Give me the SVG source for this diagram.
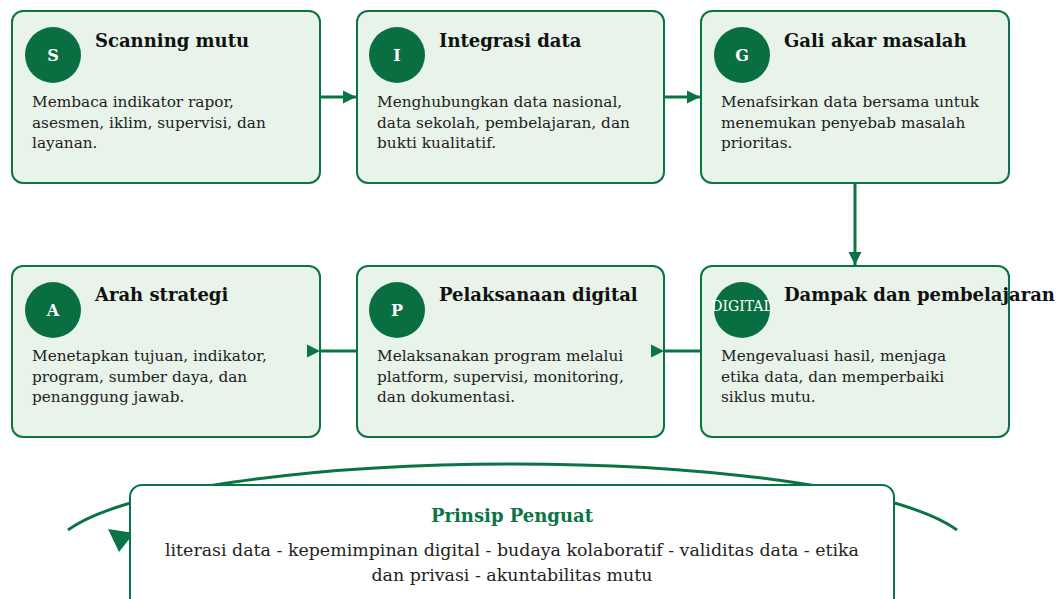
<svg xmlns="http://www.w3.org/2000/svg" width="1062" height="599" viewBox="0 0 1062 599">
  <defs>
    <style>
      .card { fill: #e8f3e9; stroke: #0b7444; stroke-width: 2; }
      .badge { fill: #0a6f40; }
      .badge-txt { fill: #ffffff; font-family: "DejaVu Serif", serif; font-weight: bold; font-size: 16px; text-anchor: middle; }
      .badge-word { fill: #ffffff; font-family: "DejaVu Serif", serif; font-size: 14px; text-anchor: middle; }
      .title { fill: #111111; font-family: "DejaVu Serif", serif; font-weight: bold; font-size: 18px; }
      .body { fill: #222222; font-family: "DejaVu Serif", serif; font-size: 15.3px; }
      .link { fill: none; stroke: #0b7444; stroke-width: 3; }
      .panel { fill: #ffffff; stroke: #0b7444; stroke-width: 2; }
      .panel-title { fill: #0b7444; font-family: "DejaVu Serif", serif; font-weight: bold; font-size: 18px; text-anchor: middle; }
      .panel-txt { fill: #222222; font-family: "DejaVu Serif", serif; font-size: 17.4px; text-anchor: middle; }
    </style>
    <marker id="head" viewBox="0 0 10 10" refX="10" refY="5" markerWidth="4.5" markerHeight="5.5" orient="auto" markerUnits="strokeWidth">
      <path d="M0,0 L10,5 L0,10 Z" fill="#0b7444"/>
    </marker>
  </defs>

  <g id="node-s">
    <rect class="card" x="12" y="11" width="308" height="172" rx="11"/>
    <circle class="badge" cx="53" cy="55" r="28"/>
    <text class="badge-txt" x="53" y="61">S</text>
    <text class="title" x="95" y="47">Scanning mutu</text>
    <text class="body" x="32" y="107">Membaca indikator rapor,</text>
    <text class="body" x="32" y="128">asesmen, iklim, supervisi, dan</text>
    <text class="body" x="32" y="148">layanan.</text>
  </g>

  <g id="node-i">
    <rect class="card" x="357" y="11" width="307" height="172" rx="11"/>
    <circle class="badge" cx="397" cy="55" r="28"/>
    <text class="badge-txt" x="397" y="61">I</text>
    <text class="title" x="439" y="47">Integrasi data</text>
    <text class="body" x="377" y="107">Menghubungkan data nasional,</text>
    <text class="body" x="377" y="128">data sekolah, pembelajaran, dan</text>
    <text class="body" x="377" y="148">bukti kualitatif.</text>
  </g>

  <g id="node-g">
    <rect class="card" x="701" y="11" width="308" height="172" rx="11"/>
    <circle class="badge" cx="742" cy="55" r="28"/>
    <text class="badge-txt" x="742" y="61">G</text>
    <text class="title" x="784" y="47">Gali akar masalah</text>
    <text class="body" x="721" y="107">Menafsirkan data bersama untuk</text>
    <text class="body" x="721" y="128">menemukan penyebab masalah</text>
    <text class="body" x="721" y="148">prioritas.</text>
  </g>

  <g id="node-a">
    <rect class="card" x="12" y="266" width="308" height="171" rx="11"/>
    <circle class="badge" cx="53" cy="310" r="28"/>
    <text class="badge-txt" x="53" y="316">A</text>
    <text class="title" x="95" y="301">Arah strategi</text>
    <text class="body" x="32" y="361">Menetapkan tujuan, indikator,</text>
    <text class="body" x="32" y="382">program, sumber daya, dan</text>
    <text class="body" x="32" y="402">penanggung jawab.</text>
  </g>

  <g id="node-p">
    <rect class="card" x="357" y="266" width="307" height="171" rx="11"/>
    <circle class="badge" cx="397" cy="310" r="28"/>
    <text class="badge-txt" x="397" y="316">P</text>
    <text class="title" x="439" y="301">Pelaksanaan digital</text>
    <text class="body" x="377" y="361">Melaksanakan program melalui</text>
    <text class="body" x="377" y="382">platform, supervisi, monitoring,</text>
    <text class="body" x="377" y="402">dan dokumentasi.</text>
  </g>

  <g id="node-d">
    <rect class="card" x="701" y="266" width="308" height="171" rx="11"/>
    <circle class="badge" cx="742" cy="310" r="28"/>
    <text class="badge-word" x="742" y="311">DIGITAL</text>
    <text class="title" x="784" y="301">Dampak dan pembelajaran</text>
    <text class="body" x="721" y="361">Mengevaluasi hasil, menjaga</text>
    <text class="body" x="721" y="382">etika data, dan memperbaiki</text>
    <text class="body" x="721" y="402">siklus mutu.</text>
  </g>

  <!-- connectors, drawn over the cards -->
  <g id="connectors">
    <line class="link" x1="320" y1="97" x2="356" y2="97" marker-end="url(#head)"/>
    <line class="link" x1="664" y1="97" x2="700" y2="97" marker-end="url(#head)"/>
    <line class="link" x1="855" y1="183" x2="855" y2="265" marker-end="url(#head)"/>
    <line class="link" x1="320" y1="351" x2="357" y2="351" marker-start="url(#head)"/>
    <line class="link" x1="664" y1="351" x2="701" y2="351" marker-start="url(#head)"/>
    <!-- cycle arc behind the principles panel -->
    <path class="link" d="M68,530 A460,89 0 0 1 957,530"/>
    <polygon points="108,529 134,533 119,552" fill="#0b7444"/>
  </g>

  <g id="principles">
    <rect class="panel" x="130" y="485" width="764" height="125" rx="12"/>
    <text class="panel-title" x="512" y="522">Prinsip Penguat</text>
    <text class="panel-txt" x="512" y="556">literasi data - kepemimpinan digital - budaya kolaboratif - validitas data - etika</text>
    <text class="panel-txt" x="512" y="581">dan privasi - akuntabilitas mutu</text>
  </g>
</svg>
